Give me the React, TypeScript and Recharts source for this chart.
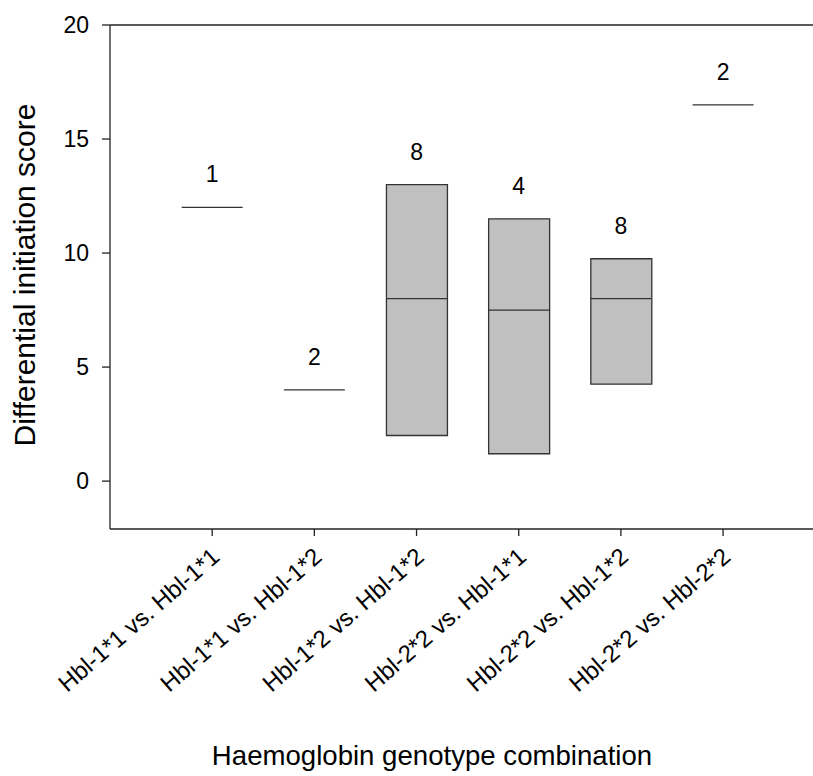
import React from 'react';
import {
  ComposedChart,
  Bar,
  Scatter,
  XAxis,
  YAxis,
  ReferenceLine,
} from 'recharts';

// Genotype pairings along the x axis
const categories = [
  'Hbl-1*1 vs. Hbl-1*1',
  'Hbl-1*1 vs. Hbl-1*2',
  'Hbl-1*2 vs. Hbl-1*2',
  'Hbl-2*2 vs. Hbl-1*1',
  'Hbl-2*2 vs. Hbl-1*2',
  'Hbl-2*2 vs. Hbl-2*2',
];

// Number of trials per pairing (printed above each mark)
const sampleSizes = [1, 2, 8, 4, 8, 2];

// Box bounds (25th / 75th percentile); groups too small for a box have none
const lowerQuartile: (number | null)[] = [null, null, 2.0, 1.2, 4.25, null];
const upperQuartile: (number | null)[] = [null, null, 13.0, 11.5, 9.75, null];

// Median line of each box, or the single score when there is no box
const medians = [12.0, 4.0, 8.0, 7.5, 8.0, 16.5];

const yTicks = [0, 5, 10, 15, 20];
const xTicks = [1, 2, 3, 4, 5, 6];

const rows = categories.map((name, i) => {
  const lo = lowerQuartile[i];
  const hi = upperQuartile[i];
  const hasBox = lo !== null && hi !== null;
  return {
    x: i + 1,
    name,
    n: sampleSizes[i],
    box: hasBox ? [lo, hi] : null,
    mid: medians[i],
    top: hasBox ? (hi as number) : medians[i],
  };
});

const FONT = '"Liberation Sans", Arial, Helvetica, sans-serif';
const INK = '#222';
const BOX_W = 61;

function SegmentShape(props: any) {
  const { cx, cy } = props;
  if (cx == null || cy == null) return null;
  return (
    <line
      x1={cx - BOX_W / 2}
      x2={cx + BOX_W / 2}
      y1={cy}
      y2={cy}
      stroke="#333"
      strokeWidth={1.3}
    />
  );
}

function CountShape(props: any) {
  const { cx, cy, payload } = props;
  if (cx == null || cy == null) return null;
  return (
    <text
      x={cx}
      y={cy - 25}
      textAnchor="middle"
      fontFamily={FONT}
      fontSize={23}
      fill="#000"
    >
      {payload.n}
    </text>
  );
}

function AngledTick(props: any) {
  const { x, y, payload } = props;
  const label = categories[payload.value - 1] ?? '';
  const ax = x + 9;
  const ay = y + 21;
  return (
    <text
      x={ax}
      y={ay}
      transform={`rotate(-41, ${ax}, ${ay})`}
      textAnchor="end"
      fontFamily={FONT}
      fontSize={24}
      fill="#000"
    >
      {label}
    </text>
  );
}

function YTitle(props: any) {
  const vb = props.viewBox || {};
  const x = 35;
  const y = (vb.y ?? 25) + (vb.height ?? 504) / 2 - 2;
  return (
    <text
      x={x}
      y={y}
      transform={`rotate(-90, ${x}, ${y})`}
      textAnchor="middle"
      fontFamily={FONT}
      fontSize={30}
      fill="#000"
    >
      Differential initiation score
    </text>
  );
}

function XTitle(props: any) {
  const x = 432;
  const vb = props.viewBox || {};
  const y = (vb.y ?? 529) + (vb.height ?? 247) - 11;
  return (
    <text
      x={x}
      y={y}
      textAnchor="middle"
      fontFamily={FONT}
      fontSize={27.6}
      fill="#000"
    >
      Haemoglobin genotype combination
    </text>
  );
}

export default function App() {
  return (
    <div
      style={{
        position: 'fixed',
        left: 0,
        top: 0,
        width: 813,
        height: 776,
        overflow: 'hidden',
        background: '#fff',
      }}
    >
      <ComposedChart
        width={813}
        height={776}
        data={rows}
        margin={{ top: 25, right: 0, bottom: 0, left: 0 }}
      >
        <XAxis
          dataKey="x"
          type="number"
          domain={[0, 6.88]}
          allowDataOverflow
          ticks={xTicks}
          interval={0}
          height={247}
          tickSize={7}
          tickMargin={2}
          tick={<AngledTick />}
          axisLine={{ stroke: INK, strokeWidth: 1.3 }}
          tickLine={{ stroke: INK, strokeWidth: 1.3 }}
          label={XTitle}
        />
        <YAxis
          type="number"
          domain={[-2.1, 20]}
          ticks={yTicks}
          allowDataOverflow
          width={110}
          tickSize={8}
          tickMargin={13}
          tick={{ fontFamily: FONT, fontSize: 23, fill: '#000' }}
          axisLine={{ stroke: INK, strokeWidth: 1.3 }}
          tickLine={{ stroke: INK, strokeWidth: 1.3 }}
          label={YTitle}
        />
        <ReferenceLine y={20} stroke={INK} strokeWidth={1.3} />
        <Bar
          dataKey="box"
          barSize={BOX_W}
          fill="#c0c0c0"
          stroke="#333"
          strokeWidth={1.3}
          isAnimationActive={false}
        />
        <Scatter dataKey="mid" shape={<SegmentShape />} isAnimationActive={false} />
        <Scatter dataKey="top" shape={<CountShape />} isAnimationActive={false} />
      </ComposedChart>
    </div>
  );
}
